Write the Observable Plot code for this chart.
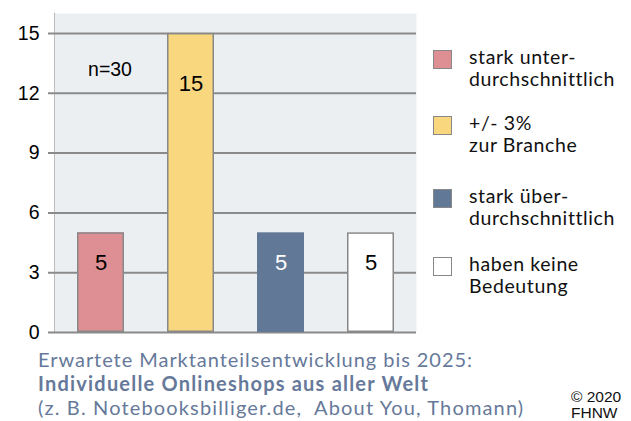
<!DOCTYPE html>
<html><head><meta charset="utf-8">
<script src="https://cdn.jsdelivr.net/npm/d3@7"></script>
<script src="https://cdn.jsdelivr.net/npm/@observablehq/plot@0.6"></script>
<style>
body{margin:0;background:#fff;}
#wrap{position:relative;width:631px;height:421px;overflow:hidden;font-family:"Liberation Sans",Arial,sans-serif;}
#chart{position:absolute;left:0;top:0;}
[aria-label^="y-axis"] text{fill:#000;}
.leg{position:absolute;left:433px;font-family:Lato,"Open Sans",sans-serif;font-size:19.5px;line-height:21.5px;color:#111;letter-spacing:0.6px;}
.sw{position:absolute;left:0;width:17px;height:17px;border:1.5px solid #888;}
.lt{position:absolute;left:36px;white-space:nowrap;}
#cap{position:absolute;left:38px;top:347px;font-family:Lato,"Open Sans",sans-serif;font-size:20px;color:#66799a;}
#cap div{height:24px;line-height:24px;white-space:pre;}
#cap .l1{letter-spacing:0.95px;}
#cap .l2{font-weight:bold;letter-spacing:1.2px;}
#cap .l3{letter-spacing:1.15px;}
#copy{position:absolute;left:571px;top:389px;font-size:15.5px;line-height:16px;color:#111;}
</style></head>
<body><div id="wrap"><div id="chart"></div><div id="legend"></div>
<div id="cap"></div><div id="copy">© 2020<br>FHNW</div></div>
<script>
const categories = ["stark unter-\ndurchschnittlich", "+/- 3%\nzur Branche", "stark über-\ndurchschnittlich", "haben keine\nBedeutung"];
const values = [5, 15, 5, 5];
const colors = ["#de8f93", "#f8d77f", "#627897", "#ffffff"];
const labelColors = ["#000", "#000", "#fff", "#000"];
const yTicks = [0, 3, 6, 9, 12, 15];
const sampleNote = "n=30";
const captionLines = ["Erwartete Marktanteilsentwicklung bis 2025:", "Individuelle Onlineshops aus aller Welt", "(z. B. Notebooksbilliger.de,  About You, Thomann)"];

const data = categories.map((c, i) => ({cat: c, value: values[i], color: colors[i], lc: labelColors[i]}));

const chart = Plot.plot({
  width: 631, height: 352,
  marginLeft: 54, marginRight: 215, marginTop: 13, marginBottom: 20,
  style: {fontSize: "19.5px", fontFamily: "'Liberation Sans', Arial, sans-serif", color: "#888", background: "transparent"},
  x: {domain: categories, axis: null, paddingInner: 0.48, paddingOuter: 0.24},
  y: {domain: [0, 16], ticks: yTicks, tickSize: 0, tickPadding: 15, label: null, line: true},
  marks: [
    Plot.frame({fill: "#eceff2", stroke: null}),
    Plot.ruleY(yTicks, {stroke: "#8a8a8a", strokeWidth: 2, insetLeft: -6}),
    Plot.barY(data, {x: "cat", y: "value", fill: d => d.color}),
    Plot.barY(data.filter(d => d.color !== "#627897"), {x: "cat", y: "value", fill: "none", stroke: "#888", strokeWidth: 1.5, inset: 0.75}),
    Plot.text(data.filter(d => d.value < 10), {x: "cat", y: "value", text: d => String(d.value), fill: d => d.lc, dy: 30, fontSize: 22}),
    Plot.text(data.filter(d => d.value >= 10), {x: "cat", y: "value", text: d => String(d.value), fill: d => d.lc, dy: 51, fontSize: 22}),
    Plot.text([sampleNote], {x: () => categories[0], y: () => 16, text: d => d, dy: 56, dx: 9, fill: "#000", fontSize: 19.5})
  ]
});
chart.querySelectorAll('[aria-label^="y-axis"]').forEach(g => g.setAttribute("stroke-width", 2));
document.getElementById("chart").appendChild(chart);

const legTops = [46, 112, 185, 253];
const leg = document.getElementById("legend");
categories.forEach((c, i) => {
  const d = document.createElement("div");
  d.className = "leg"; d.style.top = legTops[i] + "px";
  d.innerHTML = `<div class="sw" style="top:4px;background:${colors[i]};"></div><div class="lt">${c.split("\n").join("<br>")}</div>`;
  leg.appendChild(d);
});
const cap = document.getElementById("cap");
captionLines.forEach((l, i) => {
  const d = document.createElement("div");
  d.className = "l" + (i + 1);
  d.textContent = l;
  cap.appendChild(d);
});
</script></body></html>
